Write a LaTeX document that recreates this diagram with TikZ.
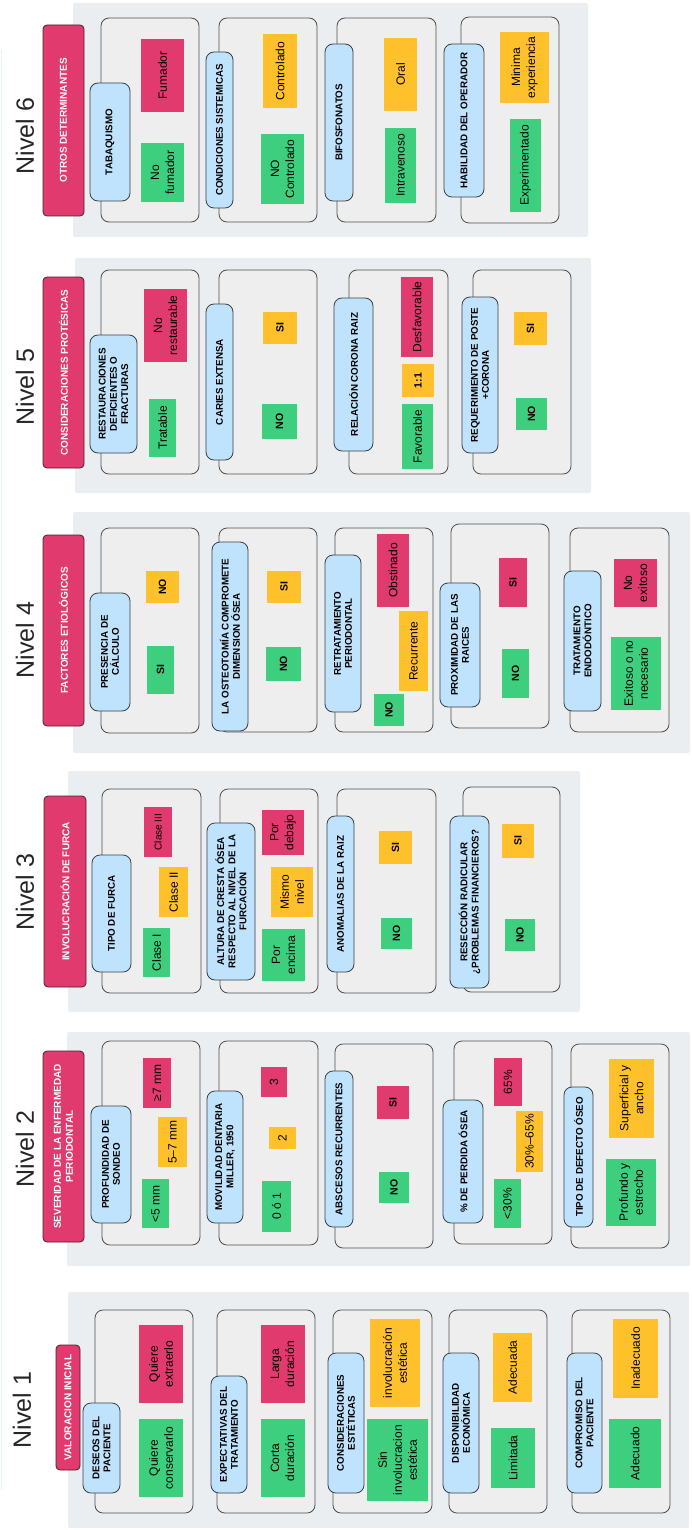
\documentclass[tikz,border=0pt]{standalone}
\usepackage{fontspec}
\setmainfont{Liberation Sans}
\definecolor{bandgray}{HTML}{EBEEF1}
\definecolor{cardfill}{HTML}{EEEEEE}
\definecolor{cardline}{HTML}{4D4D4D}
\definecolor{lblblue}{HTML}{BFE3FC}
\definecolor{lblline}{HTML}{3A3F45}
\definecolor{valgreen}{HTML}{3ECF7E}
\definecolor{valpink}{HTML}{E03A6E}
\definecolor{valyellow}{HTML}{FFC12B}
\definecolor{titleline}{HTML}{4A2030}
\definecolor{mintline}{HTML}{E3F4EC}

\begin{document}
\begin{tikzpicture}[x=1pt,y=-1pt,
    band/.style={fill=bandgray,rounded corners=2pt},
    card/.style={draw=cardline,fill=cardfill,rounded corners=8pt,line width=0.8pt},
    nivel/.style={rotate=90,font=\fontsize{25}{30}\selectfont,text=black!85},
    title/.style={draw=titleline,fill=valpink,rounded corners=4pt,rotate=90,text=white,align=center,inner sep=2pt,line width=0.8pt,font=\bfseries\fontsize{10}{12}\selectfont},
    lbl/.style={draw=lblline,fill=lblblue,rounded corners=8pt,rotate=90,align=center,inner sep=2pt,line width=0.8pt,font=\bfseries\fontsize{9.8}{11.2}\selectfont},
    val/.style={rotate=90,align=center,inner sep=1pt,font=\fontsize{12}{15}\selectfont},
    vg/.style={val,fill=valgreen},
    vp/.style={val,fill=valpink},
    vy/.style={val,fill=valyellow},
    yn/.style={font=\bfseries\fontsize{10.5}{12}\selectfont}]
  \useasboundingbox (0,0) rectangle (692,1530);
  \draw[mintline,line width=1pt] (1,50) -- (1,1490);

  % level bands
  \fill[band] (73,3) rectangle (588,237);
  \fill[band] (75,258) rectangle (591,493);
  \fill[band] (73,512) rectangle (690,753);
  \fill[band] (68,771) rectangle (580,1012);
  \fill[band] (67,1032) rectangle (690,1266);
  \fill[band] (68,1292) rectangle (689,1528);

  % cards
  \draw[card] (101,18) rectangle (199,222);
  \draw[card] (219,18) rectangle (317,222);
  \draw[card] (337,18) rectangle (436,222);
  \draw[card] (461,17) rectangle (559,223);
  \draw[card] (101,270) rectangle (199,474);
  \draw[card] (219,270) rectangle (317,474);
  \draw[card] (349,270) rectangle (448,474);
  \draw[card] (473,270) rectangle (571,474);
  \draw[card] (101,528) rectangle (199,733);
  \draw[card] (219,528) rectangle (317,732);
  \draw[card] (335,528) rectangle (433,732);
  \draw[card] (451,524) rectangle (549,728);
  \draw[card] (570,528) rectangle (669,732);
  \draw[card] (102,789) rectangle (201,993);
  \draw[card] (220,789) rectangle (318,993);
  \draw[card] (337,789) rectangle (436,993);
  \draw[card] (463,787) rectangle (560,992);
  \draw[card] (102,1041) rectangle (200,1245);
  \draw[card] (219,1041) rectangle (318,1245);
  \draw[card] (335,1044) rectangle (433,1248);
  \draw[card] (454,1041) rectangle (552,1244);
  \draw[card] (571,1044) rectangle (669,1248);
  \draw[card] (95,1310) rectangle (193,1513);
  \draw[card] (217,1310) rectangle (315,1513);
  \draw[card] (333,1310) rectangle (432,1513);
  \draw[card] (449,1310) rectangle (547,1513);
  \draw[card] (572,1310) rectangle (670,1513);

  % Nivel 1
  \node[nivel] (niv1) at (22,1410) {Nivel 1};
  \node[title,minimum width=125,minimum height=24] (valor) at (68,1407.5) {VALORACION INICIAL};
  \node[lbl,minimum width=90,minimum height=37] (deseos) at (101.5,1448) {DESEOS DEL\\PACIENTE};
  \node[vg,minimum width=78,minimum height=44] (conserv) at (161,1458) {Quiere\\conservarlo};
  \node[vp,minimum width=78,minimum height=44] (extraer) at (161,1364) {Quiere\\extraerlo};
  \node[lbl,minimum width=117,minimum height=36] (expect) at (229,1434.5) {EXPECTATIVAS DEL\\TRATAMIENTO};
  \node[vg,minimum width=78,minimum height=44] (corta) at (282.5,1458) {Corta\\duración};
  \node[vp,minimum width=78,minimum height=44] (larga) at (282.5,1364) {Larga\\duración};
  \node[lbl,minimum width=140,minimum height=36] (estet) at (346,1423) {CONSIDERACIONES\\ESTÉTICAS};
  \node[vg,minimum width=82,minimum height=61] (sininv) at (397.5,1460) {Sin\\involucracion\\estética};
  \node[vy,minimum width=88,minimum height=50] (inv) at (395,1363) {involucración\\estética};
  \node[lbl,minimum width=140,minimum height=36] (dispon) at (461,1423) {DISPONIBILIDAD\\ECONÓMICA};
  \node[vg,minimum width=60,minimum height=44] (limit) at (513,1458) {Limitada};
  \node[vy,minimum width=69,minimum height=39] (adecA) at (512.5,1367.5) {Adecuada};
  \node[lbl,minimum width=140,minimum height=35] (compro) at (584.5,1423) {COMPROMISO DEL\\PACIENTE};
  \node[vg,minimum width=69,minimum height=52] (adecO) at (635,1453.5) {Adecuado};
  \node[vy,minimum width=79,minimum height=45] (inadec) at (635.5,1358.5) {Inadecuado};

  % Nivel 2
  \node[nivel] (niv2) at (25,1149) {Nivel 2};
  \node[title,minimum width=191,minimum height=41] (sever) at (63.5,1146.5) {SEVERIDAD DE LA ENFERMEDAD\\PERIODONTAL};
  \node[lbl,minimum width=117,minimum height=40] (sondeo) at (111,1164.5) {PROFUNDIDAD DE\\SONDEO};
  \node[vg,minimum width=49,minimum height=27] (menos5) at (155.5,1203.5) {<5 mm};
  \node[vy,minimum width=50,minimum height=29] (cinco7) at (172.5,1142) {5–7 mm};
  \node[vp,minimum width=50,minimum height=28] (mas7) at (157,1083) {≥7 mm};
  \node[lbl,minimum width=132,minimum height=36] (movil) at (225,1157) {MOVILIDAD DENTARIA\\MILLER, 1950};
  \node[vg,minimum width=51,minimum height=29] (cero1) at (276.5,1206.5) {0 ó 1};
  \node[vy,minimum width=22,minimum height=27] (dos) at (282.5,1138) {2};
  \node[vp,minimum width=30,minimum height=26] (tres) at (274,1082) {3};
  \node[lbl,minimum width=156,minimum height=28] (absc) at (339,1149) {ABSCESOS RECURRENTES};
  \node[vg,yn,minimum width=31,minimum height=30] (abscNo) at (394,1187.5) {NO};
  \node[vp,yn,minimum width=33,minimum height=32] (abscSi) at (393,1102.5) {SI};
  \node[lbl,minimum width=123,minimum height=40] (perdida) at (463,1161.5) {\% DE PERDIDA ÓSEA};
  \node[vg,minimum width=49,minimum height=27] (menos30) at (507.5,1203.5) {<30\%};
  \node[vy,minimum width=61,minimum height=27] (treinta) at (529.5,1141.5) {30\%–65\%};
  \node[vp,minimum width=48,minimum height=28] (sesenta) at (508,1082) {65\%};
  \node[lbl,minimum width=140,minimum height=29] (defecto) at (578.5,1157) {TIPO DE DEFECTO ÓSEO};
  \node[vg,minimum width=67,minimum height=50] (profundo) at (631,1192.5) {Profundo y\\estrecho};
  \node[vy,minimum width=79,minimum height=45] (superf) at (631.5,1098.5) {Superficial y\\ancho};

  % Nivel 3
  \node[nivel] (niv3) at (25,892) {Nivel 3};
  \node[title,minimum width=191,minimum height=42] (furca) at (65,891.5) {INVOLUCRACIÓN DE FURCA};
  \node[lbl,minimum width=117,minimum height=39] (tipofurca) at (111.5,913.5) {TIPO DE FURCA};
  \node[vg,minimum width=49,minimum height=27] (clase1) at (156.5,952.5) {Clase I};
  \node[vy,minimum width=50,minimum height=29] (clase2) at (173.5,892) {Clase II};
  \node[vp,minimum width=50,minimum height=28,font=\fontsize{10}{12}\selectfont] (clase3) at (158,832) {Clase III};
  \node[lbl,minimum width=157,minimum height=48] (cresta) at (231,901.5) {ALTURA DE CRESTA ÓSEA\\RESPECTO AL NIVEL DE LA\\FURCACIÓN};
  \node[vg,minimum width=52,minimum height=43] (encima) at (283.5,955) {Por\\encima};
  \node[vy,minimum width=50,minimum height=42] (mismo) at (292,892) {Mismo\\nivel};
  \node[vp,minimum width=45,minimum height=42] (debajo) at (283,832.5) {Por\\debajo};
  \node[lbl,minimum width=156,minimum height=27] (anomal) at (340.5,894) {ANOMALIAS DE LA RAIZ};
  \node[vg,yn,minimum width=31,minimum height=31] (anomNo) at (396.5,933.5) {NO};
  \node[vy,yn,minimum width=33,minimum height=33] (anomSi) at (395.5,847.5) {SI};
  \node[lbl,minimum width=172,minimum height=39] (resecc) at (469.5,902) {RESECCIÓN RADICULAR\\¿PROBLEMAS FINANCIEROS?};
  \node[vg,yn,minimum width=32,minimum height=30] (resNo) at (520,935) {NO};
  \node[vy,yn,minimum width=34,minimum height=32] (resSi) at (518,841) {SI};

  % Nivel 4
  \node[nivel] (niv4) at (25,640) {Nivel 4};
  \node[title,minimum width=191,minimum height=41] (etiol) at (63.5,630.5) {FACTORES ETIOLÓGICOS};
  \node[lbl,minimum width=118,minimum height=40] (calculo) at (110,652) {PRESENCIA DE\\CÁLCULO};
  \node[vg,yn,minimum width=48,minimum height=27] (calcSi) at (160.5,670) {SI};
  \node[vy,yn,minimum width=32,minimum height=33] (calcNo) at (162.5,587) {NO};
  \node[lbl,minimum width=189,minimum height=36] (osteo) at (230,636.5) {LA OSTEOTOMÍA COMPROMETE\\DIMENSION ÓSEA};
  \node[vg,yn,minimum width=34,minimum height=35] (osteoNo) at (283.5,664) {NO};
  \node[vy,yn,minimum width=32,minimum height=34] (osteoSi) at (284,587) {SI};
  \node[lbl,minimum width=157,minimum height=36] (retrat) at (343,633.5) {RETRATAMIENTO\\PERIODONTAL};
  \node[vg,yn,minimum width=32,minimum height=30] (retNo) at (389,710) {NO};
  \node[vy,minimum width=80,minimum height=29] (recurr) at (413.5,651) {Recurrente};
  \node[vp,minimum width=73,minimum height=32] (obstin) at (393,570.5) {Obstinado};
  \node[lbl,minimum width=124,minimum height=40] (proxim) at (460,645) {PROXIMIDAD DE LAS\\RAICES};
  \node[vg,yn,minimum width=49,minimum height=27] (proxNo) at (515.5,673.5) {NO};
  \node[vp,yn,minimum width=49,minimum height=28] (proxSi) at (513,582.5) {SI};
  \node[lbl,minimum width=140,minimum height=37] (endo) at (582.5,641) {TRATAMIENTO\\ENDODÓNTICO};
  \node[vg,minimum width=73,minimum height=50] (exitoso) at (636,673.5) {Exitoso o no\\necesario};
  \node[vp,minimum width=48,minimum height=43] (noexit) at (635.5,583) {No\\exitoso};

  % Nivel 5
  \node[nivel] (niv5) at (25,387) {Nivel 5};
  \node[title,minimum width=191,minimum height=41] (protes) at (63.5,372.5) {CONSIDERACIONES PROTÉSICAS};
  \node[lbl,minimum width=118,minimum height=47] (restaur) at (113.5,394) {RESTAURACIONES\\DEFICIENTES O\\FRACTURAS};
  \node[vg,minimum width=58,minimum height=27] (tratable) at (162.5,428) {Tratable};
  \node[vp,minimum width=73,minimum height=43] (norest) at (165.5,325.5) {No\\restaurable};
  \node[lbl,minimum width=156,minimum height=27] (caries) at (219.5,382) {CARIES EXTENSA};
  \node[vg,yn,minimum width=35,minimum height=35] (cariesNo) at (279.5,421.5) {NO};
  \node[vy,yn,minimum width=32,minimum height=34] (cariesSi) at (280,328) {SI};
  \node[lbl,minimum width=153,minimum height=39] (corona) at (353.5,374.5) {RELACIÓN CORONA RAIZ};
  \node[vg,minimum width=65,minimum height=31] (favor) at (417.5,436.5) {Favorable};
  \node[vy,yn,minimum width=33,minimum height=32] (unouno) at (418,380.5) {1:1};
  \node[vp,minimum width=80,minimum height=32] (desfav) at (417,317) {Desfavorable};
  \node[lbl,minimum width=156,minimum height=36] (poste) at (480,375) {REQUERIMIENTO DE POSTE\\+CORONA};
  \node[vg,yn,minimum width=32,minimum height=31] (posteNo) at (531.5,414) {NO};
  \node[vy,yn,minimum width=33,minimum height=33] (posteSi) at (530.5,328.5) {SI};

  % Nivel 6
  \node[nivel] (niv6) at (25,136) {Nivel 6};
  \node[title,minimum width=191,minimum height=41] (otros) at (63.5,120.5) {OTROS DETERMINANTES};
  \node[lbl,minimum width=118,minimum height=40] (tabaco) at (110,142) {TABAQUISMO};
  \node[vg,minimum width=59,minimum height=43] (nofuma) at (162.5,172.5) {No\\fumador};
  \node[vp,minimum width=73,minimum height=43] (fuma) at (162.5,75.5) {Fumador};
  \node[lbl,minimum width=156,minimum height=27] (sistem) at (219.5,130) {CONDICIONES SISTEMICAS};
  \node[vg,minimum width=70,minimum height=43] (nocontrol) at (282.5,169) {NO\\Controlado};
  \node[vy,minimum width=74,minimum height=34] (control) at (280,71) {Controlado};
  \node[lbl,minimum width=157,minimum height=28] (bifos) at (339,122.5) {BIFOSFONATOS};
  \node[vg,minimum width=75,minimum height=31] (intrav) at (400.5,165.5) {Intravenoso};
  \node[vy,minimum width=73,minimum height=33] (oral) at (400.5,74.5) {Oral};
  \node[lbl,minimum width=153,minimum height=40] (habil) at (464,120.5) {HABILIDAD DEL OPERADOR};
  \node[vg,minimum width=93,minimum height=31] (experim) at (525.5,165.5) {Experimentado};
  \node[vy,minimum width=71,minimum height=49] (minima) at (524.5,67.5) {Minima\\experiencia};
\end{tikzpicture}
\end{document}
